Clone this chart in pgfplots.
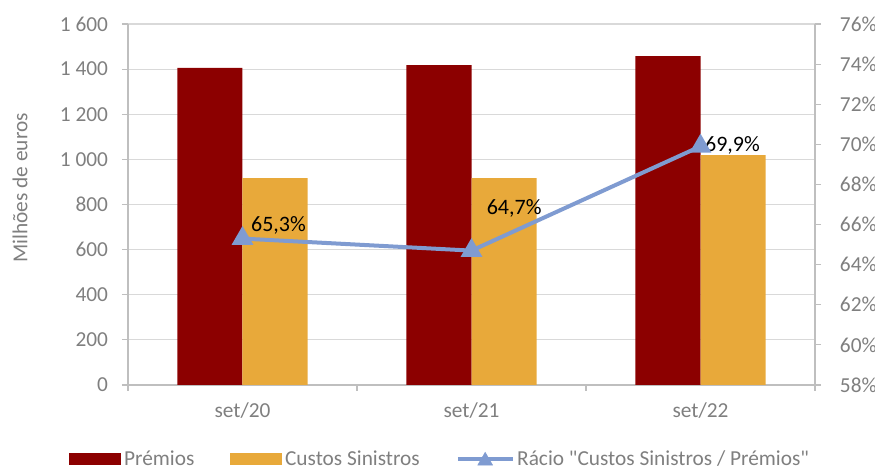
\documentclass[border=0pt]{standalone}
\usepackage{pgfplots}
\pgfplotsset{compat=1.18}
\usepackage{fontspec}
\setmainfont{Carlito}
\definecolor{premios}{HTML}{8C0000}
\definecolor{custos}{HTML}{E8A93A}
\definecolor{racio}{HTML}{7F9BD1}
\definecolor{txtgray}{HTML}{7F7F7F}
\definecolor{gridgray}{HTML}{D9D9D9}
\definecolor{axgray}{HTML}{BFBFBF}
\begin{document}
\begin{tikzpicture}
\path[use as bounding box] (-96pt,-63.75pt) rectangle (560.25pt,288.75pt);
\begin{axis}[
  at={(0,0)}, anchor=south west,
  scale only axis, width=515.25pt, height=270.75pt,
  xmin=-0.5, xmax=2.5, ymin=0, ymax=1600,
  axis y line*=left, axis x line*=bottom,
  axis line style={-, axgray, line width=0.8pt},
  ytick={0,200,...,1600},
  yticklabels={0,200,400,600,800,1 000,1 200,1 400,1 600},
  ymajorgrids, grid style={gridgray, line width=0.8pt},
  xtick={0,1,2}, xticklabels={set/20,set/21,set/22},
  major x tick style={draw=none},
  minor xtick={-0.5,0.5,1.5,2.5},
  minor x tick style={axgray, line width=0.8pt},
  minor tick length=4.5pt,
  major y tick style={axgray, line width=0.8pt},
  tick align=outside, major tick length=4.5pt,
  ticklabel style={font=\fontsize{16}{18}\selectfont, text=txtgray},
  yticklabel style={xshift=-7pt},
  xticklabel style={yshift=-5pt},
  ylabel={Milhões de euros},
  ylabel style={at={(axis description cs:-0.157,0.546)}, anchor=center, font=\fontsize{16}{18}\selectfont, text=txtgray},
  legend columns=3,
  legend style={draw=none, fill=none, at={(0.455,-0.205)}, anchor=center,
    inner sep=0pt,
    font=\fontsize{16}{18}\selectfont, text=txtgray,
    /tikz/every even column/.append style={column sep=25pt},
    nodes={inner xsep=2pt, inner ysep=0pt}},
]
\addplot[ybar, bar width=0.284, bar shift=-0.142, fill=premios, draw=none,
  legend image code/.code={\fill[premios] (0pt,-4.5pt) rectangle (39pt,4.5pt);}]
  coordinates {(0,1405) (1,1418) (2,1458)};
\addlegendentry{Prémios}
\addplot[ybar, bar width=0.284, bar shift=0.142, fill=custos, draw=none,
  legend image code/.code={\fill[custos] (0pt,-4.5pt) rectangle (39pt,4.5pt);}]
  coordinates {(0,917) (1,917) (2,1019)};
\addlegendentry{Custos Sinistros}
\addlegendimage{legend image code/.code={
  \draw[racio, line width=3pt] (0pt,0pt) -- (41pt,0pt);
  \fill[racio] (20.5pt,5pt) -- (26pt,-4.5pt) -- (15pt,-4.5pt) -- cycle;}}
\addlegendentry{Rácio \textquotedbl Custos Sinistros / Prémios\textquotedbl}
\end{axis}
\begin{axis}[
  at={(0,0)}, anchor=south west,
  scale only axis, width=515.25pt, height=270.75pt,
  xmin=-0.5, xmax=2.5, ymin=58, ymax=76,
  axis y line*=right, axis x line=none,
  axis line style={-, axgray, line width=0.8pt},
  ytick={58,60,...,76},
  yticklabels={58\%,60\%,62\%,64\%,66\%,68\%,70\%,72\%,74\%,76\%},
  major y tick style={axgray, line width=0.8pt},
  tick align=outside, major tick length=4.5pt,
  ticklabel style={font=\fontsize{16}{18}\selectfont, text=txtgray},
  yticklabel style={inner xsep=0pt, xshift=14pt},
  clip=false,
]
\addplot[racio, line width=3pt, mark=triangle*, mark size=6.5pt, mark options={solid}]
  coordinates {(0,65.3) (1,64.7) (2,69.9)};
\node[font=\fontsize{16.5}{18}\selectfont, text=black] at (axis cs:0,65.3) [xshift=27pt, yshift=9.75pt] {65,3\%};
\node[font=\fontsize{16.5}{18}\selectfont, text=black] at (axis cs:1,64.7) [xshift=32pt, yshift=32pt] {64,7\%};
\node[font=\fontsize{16.5}{18}\selectfont, text=black] at (axis cs:2,69.9) [xshift=24pt, yshift=0.75pt] {69,9\%};
\end{axis}
\end{tikzpicture}
\end{document}
